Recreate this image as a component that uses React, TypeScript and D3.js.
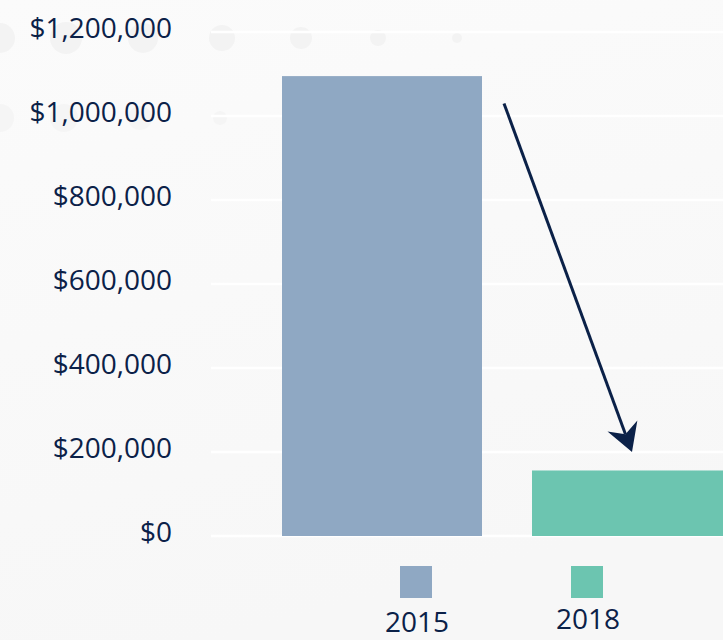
import React from "react";
import * as d3 from "d3";

const categories = ["2015", "2018"];
const values = [1095000, 156000];
const colors = ["#8FA8C3", "#6CC5B0"];
const yTicks = [0, 200000, 400000, 600000, 800000, 1000000, 1200000];
const arrowFrom = { value: 1030000 };
const arrowTo = { category: "2018", value: 200000 };

const W = 723;
const H = 640;
const FONT = "'Open Sans', 'DejaVu Sans', sans-serif";
const NAVY = "#0B2148";

export default function App() {
  const y = d3.scaleLinear().domain([0, 1200000]).range([536, 32]);
  const x = d3
    .scaleBand<string>()
    .domain(categories)
    .range([211, 803])
    .paddingInner(0.2)
    .paddingOuter(0.284);
  const fmt = (v: number) => "$" + d3.format(",")(v);

  const ax0 = (x("2015") as number) + x.bandwidth() + 22;
  const ay0 = y(arrowFrom.value);
  const ax1 = (x(arrowTo.category) as number) + x.bandwidth() / 2;
  const ay1 = y(arrowTo.value);

  const ang = Math.atan2(ay1 - ay0, ax1 - ax0);
  const len = 32;
  const half = 0.52;
  const bx1 = ax1 - len * Math.cos(ang - half);
  const by1 = ay1 - len * Math.sin(ang - half);
  const bx2 = ax1 - len * Math.cos(ang + half);
  const by2 = ay1 - len * Math.sin(ang + half);
  const nx = ax1 - 19 * Math.cos(ang);
  const ny = ay1 - 19 * Math.sin(ang);

  const decoTop = [
    { cx: 0, r: 15 },
    { cx: 66, r: 16 },
    { cx: 143, r: 15 },
    { cx: 222, r: 13 },
    { cx: 301, r: 11 },
    { cx: 378, r: 8 },
    { cx: 457, r: 5 },
  ];
  const decoRow2 = [
    { cx: 0, r: 14 },
    { cx: 64, r: 14 },
    { cx: 140, r: 12 },
    { cx: 220, r: 7 },
  ];

  return (
    <svg
      width={W}
      height={H}
      style={{ position: "absolute", left: 0, top: 0 }}
      fontFamily={FONT}
    >
      <defs>
        <linearGradient id="bg" x1="0" y1="0" x2="0.3" y2="1">
          <stop offset="0" stopColor="#FBFBFB" />
          <stop offset="1" stopColor="#F7F7F7" />
        </linearGradient>
      </defs>
      <rect x={0} y={0} width={W} height={H} fill="url(#bg)" />
      {decoTop.map((d, i) => (
        <circle key={"a" + i} cx={d.cx} cy={38} r={d.r} fill="#F3F3F3" />
      ))}
      {decoRow2.map((d, i) => (
        <circle key={"b" + i} cx={d.cx} cy={118} r={d.r} fill="#F5F5F5" />
      ))}
      {yTicks.map((t) => (
        <g key={t}>
          <line x1={211} x2={W} y1={y(t)} y2={y(t)} stroke="#FFFFFF" strokeWidth={2.5} />
          <text
            x={172}
            y={y(t) + 6}
            textAnchor="end"
            fontSize={28}
            fill={NAVY}
          >
            {fmt(t)}
          </text>
        </g>
      ))}
      {categories.map((c, i) => (
        <rect
          key={c}
          x={x(c) as number}
          y={y(values[i])}
          width={x.bandwidth()}
          height={y(0) - y(values[i])}
          fill={colors[i]}
        />
      ))}
      <line
        x1={ax0}
        y1={ay0}
        x2={nx}
        y2={ny}
        stroke={NAVY}
        strokeWidth={3}
      />
      <path
        d={`M${ax1},${ay1} L${bx1},${by1} L${nx},${ny} L${bx2},${by2} Z`}
        fill={NAVY}
      />
      {categories.map((c, i) => (
        <g key={"lg" + c} transform={`translate(${400 + i * 171},${566})`}>
          <rect x={0} y={0} width={32} height={32} fill={colors[i]} />
          <text x={17} y={i === 0 ? 66 : 63} textAnchor="middle" fontSize={28} fill={NAVY}>
            {c}
          </text>
        </g>
      ))}
    </svg>
  );
}
